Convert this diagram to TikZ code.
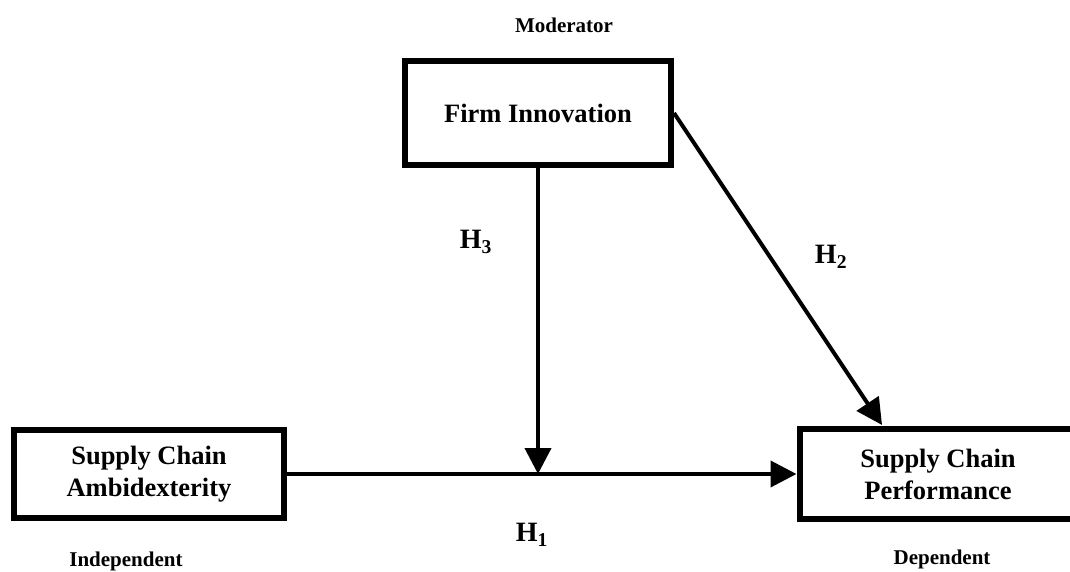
\documentclass[tikz,border=0pt]{standalone}
\usepackage{fontspec}
\setmainfont{Liberation Serif}
\usetikzlibrary{arrows.meta}
\begin{document}
\begin{tikzpicture}[x=1pt,y=-1pt,
  box/.style={draw, line width=6pt, align=center, inner sep=0pt,
    font=\bfseries\fontsize{26.5}{32}\selectfont},
  lbl/.style={inner sep=0pt, font=\bfseries\fontsize{21}{25}\selectfont},
  hyp/.style={inner sep=0pt, font=\bfseries\fontsize{28}{32}\selectfont},
  arr/.style={line width=4pt, -{Triangle[length=26pt,width=26pt]}},
  ]
\useasboundingbox (0,0) rectangle (1070,572);
\clip (0,0) rectangle (1070,572);
\node[box, minimum width=266pt, minimum height=104pt] (FI) at (538,113) {Firm Innovation};
\node[box, minimum width=270pt, minimum height=88pt] (SCA) at (149,474) {Supply Chain\\Ambidexterity};
\node[box, minimum width=277pt, minimum height=90pt] (SCP) at (938,474) {Supply Chain\\Performance};
\node[lbl] (mod) at (564,25) {Moderator};
\node[lbl] (ind) at (126,561) {Independent};
\node[lbl] (dep) at (942,559) {Dependent};
\node[hyp] (h3) at (476,242) {H\textsubscript{3}};
\node[hyp] (h2) at (831,257) {H\textsubscript{2}};
\node[hyp] (h1) at (532,535) {H\textsubscript{1}};
\coordinate (J) at (FI.south |- SCA.east);
\coordinate (T) at (882,425);
\draw[arr] (SCA.east) -- (SCP.west);
\draw[arr] (FI.south) -- (J);
\draw[arr] (FI.east) -- (T);
\end{tikzpicture}
\end{document}
